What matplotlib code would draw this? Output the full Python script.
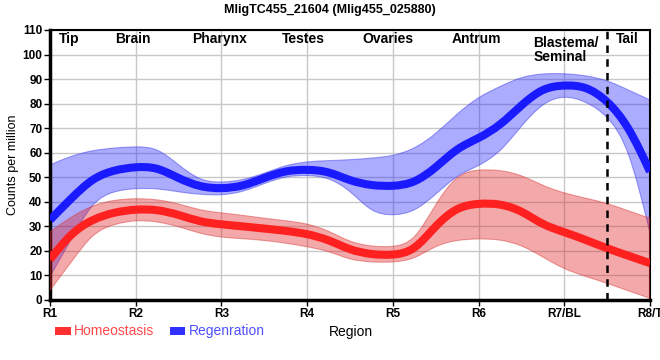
import matplotlib
matplotlib.use("Agg")
import matplotlib.pyplot as plt
import numpy as np
from matplotlib.path import Path
from matplotlib.patches import PathPatch, Rectangle

plt.rcParams['font.family'] = ['Liberation Sans', 'DejaVu Sans']

# data: region positions (quarter steps between R1 and R8/T)
regions = ['R1', 'R2', 'R3', 'R4', 'R5', 'R6', 'R7/BL', 'R8/T']
pos = [i * 0.25 for i in range(29)]

homeo_mid = [16.5, 27.5, 33, 35.8, 37, 36.9, 34.8, 31.8, 30.8, 30, 29.1, 28.2, 27, 24.6, 20.3,
             18.5, 18.2, 19.8, 30.5, 38, 39.4, 39.3, 36.5, 30.5, 27.7, 24.5, 21, 18, 15]
homeo_hi = [27.8, 34, 38.7, 40.8, 41.4, 41, 39.3, 36.5, 35.5, 34.5, 33.3, 32.3, 31.2, 28.3, 23.5,
            21.8, 21.5, 23.5, 39.4, 51.5, 53.2, 53, 51, 46.5, 43.5, 41.5, 39.4, 36.3, 33.3]
homeo_lo = [4, 15.5, 27.5, 31, 32.6, 32, 30, 27, 25.5, 25, 24.3, 23.2, 21.7, 20, 16.3,
            15.4, 15.3, 16.5, 22.3, 24.5, 25, 24.7, 22.5, 17.5, 12.5, 9.6, 6.8, 3.7, 0.7]

regen_mid = [32.6, 41.5, 49.8, 53, 54.3, 54.2, 49.5, 46, 45.3, 46.3, 49.8, 52.8, 53.2, 52.5, 48.5,
             46.6, 46.3, 47.5, 53.8, 62, 65.8, 71, 79.5, 86.5, 87.6, 87.2, 81.5, 71, 52.3]
regen_hi = [55, 58.8, 61, 62, 62.5, 62.2, 55, 48.5, 47.8, 48.8, 51.6, 55, 56.4, 56.8, 57.1,
            57.8, 58.6, 61.5, 67.5, 76, 82.8, 87, 91, 92.3, 92.3, 91.5, 89.6, 85.5, 81.5]
regen_lo = [9.5, 25, 40.5, 44.5, 45.5, 45.5, 44, 43, 42.6, 44, 47.5, 50.5, 50.9, 50, 44.8,
            35.5, 34.3, 35.8, 43, 51, 54.5, 60, 71, 80.5, 83.5, 81, 75.4, 63, 27.3]

area_names = ['Tip', 'Brain', 'Pharynx', 'Testes', 'Ovaries', 'Antrum', 'Blastema/\nSeminal', 'Tail']
area_pos = [0.22, 0.97, 1.98, 2.96, 3.94, 4.98, 5.64, 6.73]
tail_split = 6.5


def basis(x, y, first=True):
    # uniform cubic B-spline as bezier segments (same as d3 curveBasis)
    p = list(zip(x, y))
    verts = [p[0]]
    codes = [Path.MOVETO if first else Path.LINETO]
    pts = p + [p[-1]]
    verts.append(((5 * p[0][0] + p[1][0]) / 6, (5 * p[0][1] + p[1][1]) / 6))
    codes.append(Path.LINETO)
    for i in range(2, len(pts)):
        (x0, y0), (x1, y1), (x2, y2) = pts[i-2], pts[i-1], pts[i]
        verts += [((2 * x0 + x1) / 3, (2 * y0 + y1) / 3),
                  ((x0 + 2 * x1) / 3, (y0 + 2 * y1) / 3),
                  ((x0 + 4 * x1 + x2) / 6, (y0 + 4 * y1 + y2) / 6)]
        codes += [Path.CURVE4] * 3
    verts.append(p[-1])
    codes.append(Path.LINETO)
    return verts, codes


def line_path(x, y):
    v, c = basis(x, y)
    return Path(v, c)


def band_path(x, lo, hi):
    v1, c1 = basis(x, hi)
    v2, c2 = basis(x[::-1], lo[::-1], first=False)
    v = v1 + v2 + [v1[0]]
    c = c1 + c2 + [Path.CLOSEPOLY]
    return Path(v, c)


fig = plt.figure(figsize=(6.6, 3.6), dpi=100)
ax = fig.add_axes([50/660, 60/360, 600/660, 270/360])

ax.add_patch(PathPatch(band_path(pos, regen_lo, regen_hi), facecolor=(0.1, 0.1, 1.0, 0.36),
                       edgecolor=(0.2, 0.2, 0.9, 0.45), lw=0.8, zorder=2))
ax.add_patch(PathPatch(band_path(pos, homeo_lo, homeo_hi), facecolor=(0.88, 0.12, 0.12, 0.38),
                       edgecolor=(0.85, 0.2, 0.2, 0.45), lw=0.8, zorder=3))
ax.add_patch(PathPatch(line_path(pos, regen_mid), facecolor='none', edgecolor='#1a1aff',
                       lw=5.8, capstyle='butt', zorder=4))
ax.add_patch(PathPatch(line_path(pos, homeo_mid), facecolor='none', edgecolor='#ff2020',
                       lw=5.8, capstyle='butt', zorder=5))

ax.axvline(tail_split, color='black', lw=1.8, ls=(0, (3, 2.5)), zorder=6)

for name, xp in zip(area_names, area_pos):
    if '\n' in name:
        ax.text(xp, 107.5, name, ha='left', va='top', fontsize=10, fontweight='bold',
                linespacing=0.95, zorder=7)
    else:
        ax.text(xp, 106.3, name, ha='center', va='center', fontsize=10, fontweight='bold', zorder=7)

ax.set_xlim(0, 7)
ax.set_ylim(0, 110)
ax.set_xticks(range(len(regions)))
ax.set_xticklabels(regions)
ax.set_yticks(range(0, 111, 10))
ax.tick_params(axis='both', labelsize=8.5, width=1, length=4, pad=1.5)
for lab in ax.get_xticklabels() + ax.get_yticklabels():
    lab.set_fontweight('bold')
ax.grid(True, color='#c8c8c8', lw=1, zorder=0)
ax.set_axisbelow(True)
ax.spines['left'].set_linewidth(2.5)
ax.spines['bottom'].set_linewidth(2.5)
ax.spines['top'].set_linewidth(1.5)
ax.spines['right'].set_linewidth(1.5)

ax.set_ylabel('Counts per million', fontsize=9, va='center')
ax.yaxis.set_label_coords(-37/600, 0.5)
fig.text(330/660, 1 - 10/360, 'MligTC455_21604 (Mlig455_025880)', ha='center', va='center',
         fontsize=9, fontweight='bold')

# legend along bottom
fig.patches.append(Rectangle((55/660, 1 - 335/360), 16/660, 8/360, transform=fig.transFigure,
                             facecolor='#ff3030', edgecolor='none'))
fig.text(74/660, 1 - 331/360, 'Homeostasis', color='#ff4848', fontsize=10, va='center')
fig.patches.append(Rectangle((170/660, 1 - 335/360), 15/660, 8/360, transform=fig.transFigure,
                             facecolor='#3030ff', edgecolor='none'))
fig.text(189/660, 1 - 331/360, 'Regenration', color='#5050ff', fontsize=10, va='center')
fig.text(351/660, 1 - 332/360, 'Region', color='black', fontsize=10, ha='center', va='center')

fig.savefig('out.png', dpi=100)
